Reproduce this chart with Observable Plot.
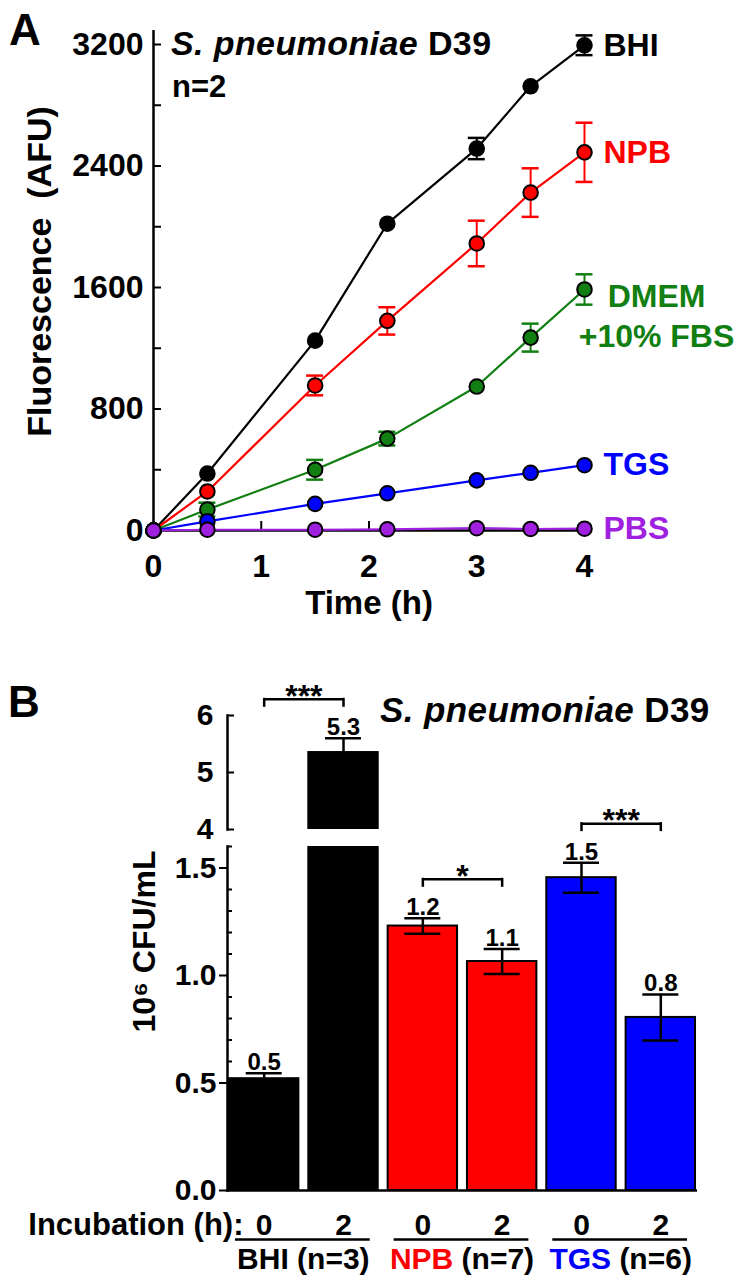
<!DOCTYPE html>
<html><head><meta charset="utf-8">
<script src="https://cdn.jsdelivr.net/npm/d3@7"></script>
<script src="https://cdn.jsdelivr.net/npm/@observablehq/plot@0.6"></script>
<style>
body{margin:0;background:#fff;}
#root{position:relative;width:750px;height:1286px;overflow:hidden;font-family:"Liberation Sans",Arial,sans-serif;font-weight:bold;color:#000;background:#fff;}
.lab{position:absolute;white-space:nowrap;line-height:1;}
</style></head><body><div id="root"></div>
<script>
// ---------- Panel A data ----------
const times = [0, 0.5, 1.5, 2.17, 3, 3.5, 4];
const bhi = [0, 375, 1250, 2020, 2515, 2925, 3195];
const bhiErr = [0, 0, 0, 0, 70, 0, 65];
const npb = [0, 257, 955, 1380, 1890, 2225, 2490];
const npbErr = [0, 0, 65, 90, 150, 160, 195];
const dmem = [0, 138, 400, 605, 948, 1270, 1587];
const dmemErr = [0, 45, 65, 45, 0, 92, 100];
const tgs = [0, 60, 175, 245, 330, 380, 430];
const tgsErr = [0, 0, 0, 0, 0, 0, 0];
const pbs = [0, 5, 5, 8, 15, 10, 12];
const pbsErr = [0, 0, 0, 0, 0, 0, 0];
const seriesNames = ["BHI", "NPB", "DMEM", "TGS", "PBS"];
const seriesLabels = ["BHI", "NPB", "DMEM\n+10% FBS", "TGS", "PBS"];
const seriesColors = ["#000000", "#ff0000", "#117f11", "#0000ff", "#a020e0"];
const yTicksA = [0, 400, 800, 1200, 1600, 2000, 2400, 2800, 3200];
const xTicksA = [0, 1, 2, 3, 4];

// ---------- Panel B data ----------
const bCats = ["BHI-0", "BHI-2", "NPB-0", "NPB-2", "TGS-0", "TGS-2"];
const bHours = ["0", "2", "0", "2", "0", "2"];
const bMedia = ["BHI", "BHI", "NPB", "NPB", "TGS", "TGS"];
const bValues = [0.52, 5.35, 1.23, 1.065, 1.455, 0.805];
const bErrors = [0.025, 0.25, 0.036, 0.058, 0.07, 0.107];
const bLabels = ["0.5", "5.3", "1.2", "1.1", "1.5", "0.8"];
const mediaNames = ["BHI", "NPB", "TGS"];
const mediaN = ["(n=3)", "(n=7)", "(n=6)"];
const mediaColors = ["#000000", "#ff0000", "#0000ff"];
const sigFrom = ["BHI-0", "NPB-0", "TGS-0"];
const sigTo = ["BHI-2", "NPB-2", "TGS-2"];
const sigText = ["***", "*", "***"];
const yTicksUpper = [4, 5, 6];
const yTicksLower = d3.range(17).map(i => i / 10);

const FONT = "'Liberation Sans', Arial, sans-serif";
const root = document.getElementById("root");
function addSvg(svg, top) {
  svg.style.position = "absolute"; svg.style.left = "0px"; svg.style.top = top + "px";
  root.appendChild(svg);
}
function label(html, x, baseline, size, extra) {
  const d = document.createElement("div");
  d.className = "lab";
  d.style.left = x + "px";
  d.style.top = (baseline - 0.8465 * size) + "px";
  d.style.fontSize = size + "px";
  if (extra) d.style.cssText += extra;
  d.innerHTML = html;
  root.appendChild(d);
  return d;
}

// ---------- Panel A ----------
const valuesA = [bhi, npb, dmem, tgs, pbs];
const errorsA = [bhiErr, npbErr, dmemErr, tgsErr, pbsErr];
const rowsA = seriesNames.flatMap((s, i) => times.map((t, j) => ({series: s, t, v: valuesA[i][j], e: errorsA[i][j]})));
const errA = rowsA.filter(d => d.e > 0);
const lastA = seriesNames.map((s, i) => ({series: s, label: seriesLabels[i], t: times[times.length - 1], v: valuesA[i][times.length - 1]}));
const multi = d => d.label.includes("\n");

const plotA = Plot.plot({
  width: 750, height: 640,
  marginLeft: 153, marginRight: 166, marginTop: 44, marginBottom: 110,
  style: {fontFamily: FONT, fontWeight: "bold", fontSize: "32px", overflow: "visible", background: "none", color: "#000"},
  x: {domain: [0, 4], label: null},
  y: {domain: [0, 3200], label: null},
  color: {domain: seriesNames, range: seriesColors},
  marks: [
    Plot.ruleX([0], {insetTop: -14, insetBottom: -3, strokeWidth: 2.5}),
    Plot.ruleY([0], {insetRight: -8, insetLeft: -1, strokeWidth: 2.5}),
    Plot.axisY({ticks: yTicksA, tickSize: -8, tickPadding: 18, strokeWidth: 2, label: null, fontSize: 32,
      tickFormat: d => (d % 800 === 0 ? String(d) : "")}),
    Plot.axisX({ticks: xTicksA, tickSize: -9, tickPadding: 33, strokeWidth: 2, label: null, fontSize: 32, tickFormat: d => String(d)}),
    Plot.line(rowsA, {x: "t", y: "v", z: "series", stroke: "series", strokeWidth: 2.2}),
    Plot.ruleX(errA, {x: "t", y1: d => d.v - d.e, y2: d => d.v + d.e, stroke: "series", strokeWidth: 2}),
    Plot.ruleY(errA, {y: d => d.v + d.e, x1: "t", x2: "t", insetLeft: -8.5, insetRight: -8.5, stroke: "series", strokeWidth: 2.5}),
    Plot.ruleY(errA, {y: d => d.v - d.e, x1: "t", x2: "t", insetLeft: -8.5, insetRight: -8.5, stroke: "series", strokeWidth: 2.5}),
    Plot.dot(rowsA, {x: "t", y: "v", r: 7.3, fill: "series", stroke: "black", strokeWidth: 2}),
    Plot.text(lastA, {filter: d => !multi(d), x: "t", y: "v", text: "label", fill: "series", dx: 19, textAnchor: "start", fontSize: 32}),
    Plot.text(lastA, {filter: multi, x: "t", y: "v", text: "label", fill: "series", dx: 72, dy: -11, textAnchor: "middle", lineAnchor: "top", lineHeight: 1.25, fontSize: 32}),
    Plot.text(["Time (h)"], {frameAnchor: "bottom", dy: 83, fontSize: 33}),
    Plot.text(["Fluorescence\u00a0\u00a0(AFU)"], {frameAnchor: "left", textAnchor: "middle", rotate: -90, dx: -113, dy: -16, fontSize: 34})
  ]
});
addSvg(plotA, 0);

label("A", 9, 45, 44);
label("<i>S. pneumoniae</i> D39", 171, 55, 34, "letter-spacing:0.4px;");
label("n=2", 172, 97, 31);

// ---------- Panel B ----------
const xBand = {type: "band", domain: bCats, paddingInner: 0.125, paddingOuter: 0.025, round: false};
const xs = Plot.scale({x: {...xBand, range: [227, 697]}});
const bw = xs.bandwidth;
const step = xs.apply(bCats[1]) - xs.apply(bCats[0]);
const capInset = (bw - 36) / 2;

const rowsB = bCats.map((c, i) => ({cat: c, medium: bMedia[i], v: bValues[i], e: bErrors[i], top: bValues[i] + bErrors[i], label: bLabels[i]}));
const brackets = sigFrom.map((a, i) => {
  const ra = rowsB[bCats.indexOf(a)], rb = rowsB[bCats.indexOf(sigTo[i])];
  return {a, b: sigTo[i], level: Math.max(ra.top, rb.top), text: sigText[i]};
});
const bracketEnds = brackets.flatMap(d => [{cat: d.a, level: d.level}, {cat: d.b, level: d.level}]);

function panelB({height, mTop, mBottom, domain, axisMarks, extra}) {
  const inside = d => d.top >= domain[0] && d.top <= domain[1];
  const insideL = d => d.level >= domain[0] && d.level <= domain[1];
  return Plot.plot({
    width: 750, height,
    marginLeft: 227, marginRight: 53, marginTop: mTop, marginBottom: mBottom,
    style: {fontFamily: FONT, fontWeight: "bold", fontSize: "30px", overflow: "visible", background: "none", color: "#000"},
    x: {...xBand, label: null, axis: null},
    y: {domain, label: null},
    color: {domain: mediaNames, range: mediaColors},
    marks: [
      Plot.barY(rowsB, {x: "cat", y: "v", fill: "medium", stroke: "black", strokeWidth: 2, clip: true}),
      Plot.ruleX(rowsB, {filter: inside, x: "cat", y1: d => d.v - d.e, y2: "top", strokeWidth: 2.5}),
      Plot.tickY(rowsB, {filter: inside, x: "cat", y: "top", insetLeft: capInset, insetRight: capInset, strokeWidth: 2.5}),
      Plot.tickY(rowsB, {filter: inside, x: "cat", y: d => d.v - d.e, insetLeft: capInset, insetRight: capInset, strokeWidth: 2.5}),
      Plot.text(rowsB, {filter: inside, x: "cat", y: "top", text: "label", lineAnchor: "bottom", dy: -3, fontSize: 24}),
      Plot.link(brackets, {filter: insideL, x1: "a", x2: "b", y1: "level", y2: "level", dy: -39, strokeWidth: 2.5}),
      Plot.ruleX(bracketEnds, {filter: insideL, x: "cat", y1: "level", y2: "level", dy: -39, insetTop: -1, insetBottom: -8, strokeWidth: 2.5}),
      Plot.text(brackets, {filter: insideL, x: "a", y: "level", text: "text", dx: step / 2, dy: -42, fontSize: 32}),
      Plot.frame({anchor: "left", strokeWidth: 2.5}),
      ...axisMarks,
      ...(extra || [])
    ]
  });
}

const upper = panelB({
  height: 180, mTop: 55, mBottom: 11, domain: [4, 6],
  axisMarks: [Plot.axisY({ticks: yTicksUpper, tickSize: -7, tickPadding: 21, strokeWidth: 2, label: null, fontSize: 30, tickFormat: d => String(d)})]
});
addSvg(upper, 660);

const lower = panelB({
  height: 446, mTop: 6, mBottom: 96, domain: [0, 1.6],
  axisMarks: [
    Plot.axisY({ticks: yTicksLower.filter(d => Math.round(d * 10) % 5 === 0), tickSize: 8, tickPadding: 3, strokeWidth: 2, label: null, fontSize: 30, tickFormat: d => d.toFixed(1)}),
    Plot.axisY({ticks: yTicksLower.filter(d => Math.round(d * 10) % 5 !== 0), tickSize: -5, tickPadding: 0, strokeWidth: 2, label: null, tickFormat: () => ""}),
    Plot.axisX({tickSize: 0, tickPadding: 23, label: null, fontSize: 30, tickFormat: d => bHours[bCats.indexOf(d)]})
  ],
  extra: [
    Plot.ruleY([0], {insetLeft: -1, strokeWidth: 2.5}),
    Plot.ruleY(mediaNames, {y: () => 0, x1: (d, i) => bCats[2 * i], x2: (d, i) => bCats[2 * i + 1], dy: 49, insetLeft: 6, insetRight: 8, strokeWidth: 2.5}),
    Plot.text(["Incubation (h):"], {frameAnchor: "bottom-left", textAnchor: "end", dx: 16, dy: 44, fontSize: 31}),
    Plot.text(["10\u2076 CFU/mL"], {frameAnchor: "left", textAnchor: "middle", rotate: -90, dx: -83, dy: -77, fontSize: 32})
  ]
});
addSvg(lower, 840);

label("B", 8, 717, 44);
label("<i>S. pneumoniae</i> D39", 380, 722, 35, "letter-spacing:0.4px;");

mediaNames.forEach((m, i) => {
  const c = (xs.apply(bCats[2 * i]) + xs.apply(bCats[2 * i + 1]) + bw) / 2;
  label(`<span style="color:${mediaColors[i]}">${m}</span> ${mediaN[i]}`, c, 1269, 30, "transform:translateX(-50%);");
});
</script>
</body></html>
